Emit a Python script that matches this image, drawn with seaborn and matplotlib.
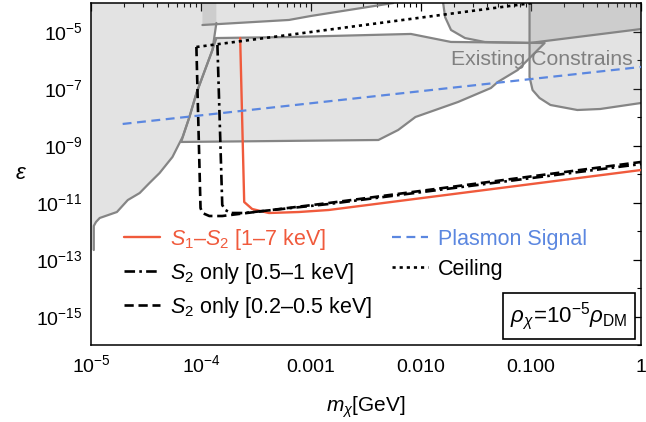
import numpy as np
import pandas as pd
import matplotlib
matplotlib.use("Agg")
import matplotlib.pyplot as plt
import matplotlib.ticker as mticker
import seaborn as sns

# ---- data ----
# left exclusion curve
left_m = [1.38e-4, 1.27e-4, 1.03e-4, 9.1e-5, 7.85e-5, 6.8e-5, 5.5e-5, 4.2e-5, 3.4e-5,
          2.77e-5, 2.16e-5, 1.72e-5, 1.2e-5, 1.11e-5, 1.06e-5, 1.06e-5]
left_eps = [1.99e-5, 2.24e-6, 2.54e-7, 6.95e-8, 1.0e-8, 1.99e-9, 3.95e-10, 1.08e-10, 4.83e-11,
            2.15e-11, 1.22e-11, 4.64e-12, 2.86e-12, 2.07e-12, 1.5e-12, 2.15e-13]
# thin strip along the top
strip_m = [1.03e-4, 6.3e-4, 9.95e-4, 5.6e-3]
strip_eps = [1.69e-5, 2.54e-5, 3.5e-5, 1e-4]
# middle band
band_m = [1.38e-4, 6.3e-4, 8.1e-3, 1.87e-2, 0.133, 0.0757, 0.0499, 0.0432, 0.0217, 8.9e-3,
          6.2e-3, 4.1e-3, 6.6e-5, 7.85e-5, 9.1e-5, 1.03e-4, 1.27e-4, 1.38e-4]
band_eps = [5.9e-6, 6.4e-6, 8.2e-6, 4.3e-6, 3.95e-6, 4.46e-7, 1.69e-7, 1.04e-7, 3.36e-8, 1e-8,
            3.5e-9, 1.56e-9, 1.33e-9, 1e-8, 6.95e-8, 2.54e-7, 2.24e-6, 5.9e-6]
# top-right regions
tr_m = [0.0159, 0.01656, 0.01875, 0.0251, 0.038, 0.097, 1.0]
tr_eps = [1e-4, 3.2e-5, 1.13e-5, 5.9e-6, 4.28e-6, 3.95e-6, 1.22e-5]
right_m = [0.097, 0.097, 0.1033, 0.1196, 0.1503, 0.2636, 0.4256, 1.0]
right_eps = [1e-4, 2.54e-7, 8.85e-8, 4.64e-8, 2.64e-8, 1.76e-8, 1.91e-8, 3.1e-8]

# sensitivity curves
s1s2_m = [2.27e-4, 2.47e-4, 2.92e-4, 4.15e-4, 7.76e-4, 1.45e-3, 1.0]
s1s2_eps = [5.9e-6, 1.04e-11, 5.9e-12, 4.28e-12, 4.64e-12, 5.46e-12, 1.38e-10]
s2hi_m = [1.41e-4, 1.56e-4, 1.66e-4, 1.88e-4, 2.47e-4, 1.45e-3, 1.0]
s2hi_eps = [3.36e-6, 8.2e-12, 5.46e-12, 4.28e-12, 4.28e-12, 8.85e-12, 2.24e-10]
s2lo_m = [9.08e-5, 9.9e-5, 1.03e-4, 1.19e-4, 1.56e-4, 1.45e-3, 1.0]
s2lo_eps = [2.86e-6, 6.4e-12, 4.28e-12, 3.36e-12, 3.36e-12, 9.6e-12, 2.64e-10]
plasmon_m = [1.94e-5, 1.0]
plasmon_eps = [5.7e-9, 5.7e-7]
ceiling_m = [9.08e-5, 0.103]
ceiling_eps = [2.86e-6, 1e-4]

legend_labels = [r"$S_1$–$S_2$ [1–7 keV]", r"$S_2$ only [0.5–1 keV]",
                 r"$S_2$ only [0.2–0.5 keV]", "Plasmon Signal", "Ceiling"]
xtick_vals = [1e-5, 1e-4, 1e-3, 1e-2, 1e-1, 1]
xtick_labels = [r"$10^{-5}$", r"$10^{-4}$", "0.001", "0.010", "0.100", "1"]
ytick_vals = [1e-15, 1e-13, 1e-11, 1e-9, 1e-7, 1e-5]
ytick_labels = [r"$10^{-15}$", r"$10^{-13}$", r"$10^{-11}$", r"$10^{-9}$", r"$10^{-7}$", r"$10^{-5}$"]

X_MIN, X_MAX = 1e-5, 1.0
Y_MIN, Y_MAX = 1e-16, 1e-4

sns.set_theme(style="white")
plt.rcParams["font.family"] = ["Liberation Sans", "DejaVu Sans"]
plt.rcParams["mathtext.fontset"] = "custom"
plt.rcParams["mathtext.rm"] = "Liberation Sans"
plt.rcParams["mathtext.it"] = "Liberation Sans:italic"
plt.rcParams["mathtext.bf"] = "Liberation Sans:bold"
for key in ["text.color", "axes.labelcolor", "xtick.color", "ytick.color"]:
    plt.rcParams[key] = "black"

RED = "#f05a3c"
BLUE = "#5b87e0"
GRAY = "#858585"
FILL = "#7f7f7f"

fig = plt.figure(figsize=(6.46, 4.22), dpi=100)
ax = fig.add_axes([91 / 646, 1 - 345 / 422, 550 / 646, 342 / 422])
ax.set_xscale("log")
ax.set_yscale("log")

# shaded existing constraints
polys = [
    (left_m + [X_MIN * 0.5, X_MIN * 0.5, left_m[0]], left_eps + [left_eps[-1], Y_MAX * 10, Y_MAX * 10]),
    (strip_m + [strip_m[-1], strip_m[0]], strip_eps + [Y_MAX * 10, Y_MAX * 10]),
    (band_m, band_eps),
    (tr_m + [X_MAX * 2, X_MAX * 2, tr_m[0]], tr_eps + [tr_eps[-1], Y_MAX * 10, Y_MAX * 10]),
    (right_m + [X_MAX * 2, X_MAX * 2], right_eps + [right_eps[-1], Y_MAX * 10]),
]
for pm, pe in polys:
    ax.fill(pm, pe, color=FILL, alpha=0.21, lw=0, zorder=1)

for bm, be in [(left_m, left_eps), (strip_m, strip_eps), (band_m, band_eps),
               (tr_m, tr_eps), (right_m, right_eps)]:
    sns.lineplot(x=bm, y=be, ax=ax, color=GRAY, lw=1.6, sort=False, estimator=None, zorder=2)

ax.text(0.985, 0.835, "Existing Constrains", transform=ax.transAxes, ha="right", va="center",
        color="#808080", fontsize=15.3, zorder=3)

# sensitivity curves
curves = [
    (s1s2_m, s1s2_eps, RED, "-", 1.7),
    (s2hi_m, s2hi_eps, "black", (0, (4, 1.6, 1, 1.6)), 1.9),
    (s2lo_m, s2lo_eps, "black", (0, (3.5, 1.8)), 1.9),
    (plasmon_m, plasmon_eps, BLUE, (0, (4, 2.5)), 1.6),
    (ceiling_m, ceiling_eps, "black", (0, (1.2, 1.5)), 1.9),
]
handles = []
for (cm, ce, col, ls, lw), lab in zip(curves, legend_labels):
    sns.lineplot(x=cm, y=ce, ax=ax, color=col, lw=lw, linestyle=ls, sort=False,
                 estimator=None, zorder=4)
    handles.append(ax.lines[-1])

ax.set_xlim(X_MIN, X_MAX)
ax.set_ylim(Y_MIN, Y_MAX)

leg = ax.legend(handles, legend_labels, ncol=2, loc="upper left", bbox_to_anchor=(0.06, 0.346),
                frameon=False, fontsize=15.5, handlelength=1.65, handletextpad=0.47,
                columnspacing=0.95, labelspacing=0.42, borderpad=0, borderaxespad=0)
text_colors = [RED, "black", "black", BLUE, "black"]
for t, c in zip(leg.get_texts(), text_colors):
    t.set_color(c)

ax.text(0.869, 0.085, r"$\rho_\chi\!=\!10^{-5}\rho_{\rm DM}$", transform=ax.transAxes,
        ha="center", va="center", fontsize=16, zorder=6,
        bbox=dict(boxstyle="square,pad=0.33", fc="white", ec="black", lw=1.2))

# axes / ticks
ax.set_xticks(xtick_vals)
ax.set_xticklabels(xtick_labels, va="baseline")
ax.xaxis.set_minor_locator(mticker.LogLocator(base=10, subs=np.arange(2, 10), numticks=20))
ax.xaxis.set_minor_formatter(mticker.NullFormatter())
ax.set_yticks(ytick_vals)
ax.set_yticklabels(ytick_labels)
ax.yaxis.set_minor_locator(mticker.FixedLocator([10.0 ** e for e in range(-16, -3, 2)]))
ax.yaxis.set_minor_formatter(mticker.NullFormatter())
ax.tick_params(which="both", direction="in", top=True, right=True, labelsize=14, color="black")
ax.tick_params(which="major", length=5.5, width=0.9)
ax.tick_params(axis="x", which="major", pad=19.5)
ax.tick_params(axis="y", which="major", pad=6)
ax.tick_params(which="minor", length=3, width=0.8)
for sp in ax.spines.values():
    sp.set_color("black")
    sp.set_linewidth(1.1)

ax.set_xlabel(r"$m_\chi$[GeV]", fontsize=15, va="baseline")
ax.xaxis.set_label_coords(0.5, -0.196)
ax.set_ylabel(r"$\epsilon$", fontsize=16, rotation=0, va="center")
ax.yaxis.set_label_coords(-0.128, 0.5)

fig.savefig("out.png", dpi=100)
